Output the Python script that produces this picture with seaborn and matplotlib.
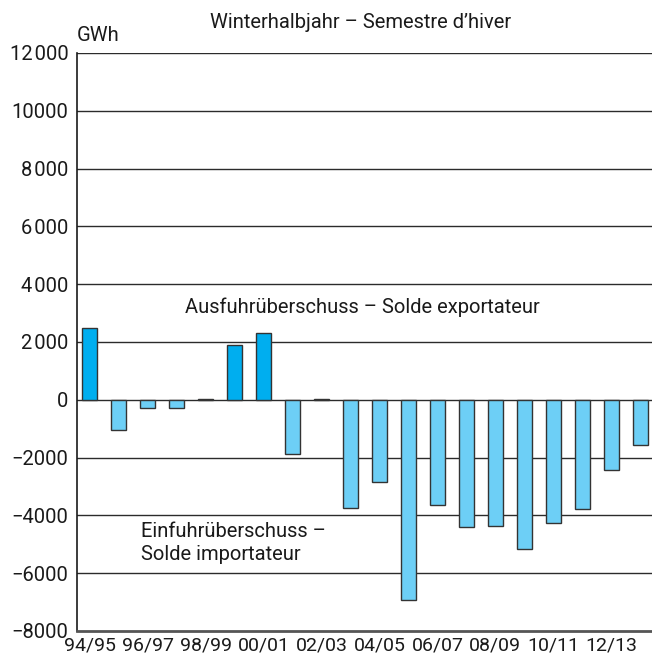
import numpy as np
import pandas as pd
import seaborn as sns
import matplotlib.pyplot as plt

# Winter half-year export/import balance, GWh
seasons = ['94/95', '95/96', '96/97', '97/98', '98/99', '99/00', '00/01', '01/02',
           '02/03', '03/04', '04/05', '05/06', '06/07', '07/08', '08/09', '09/10',
           '10/11', '11/12', '12/13', '13/14']
balance = [2490, -1040, -290, -290, 40, 1880, 2300, -1870,
           30, -3750, -2860, -6940, -3630, -4400, -4360, -5150,
           -4270, -3790, -2440, -1560]

y_ticks = [-8000, -6000, -4000, -2000, 0, 2000, 4000, 6000, 8000, 10000, 12000]
y_tick_labels = ['\u22128000', '\u22126000', '\u22124000', '\u22122000', '0',
                 '2\u200a000', '4\u200a000', '6\u200a000', '8\u200a000', '10000', '12\u200a000']
x_tick_labels = [s if i % 2 == 0 else '' for i, s in enumerate(seasons)]

sns.set_style("white")
plt.rcParams['font.family'] = ['Roboto', 'DejaVu Sans']
plt.rcParams['font.size'] = 14

df = pd.DataFrame({'season': seasons, 'value': balance})
df['sign'] = np.where(df['value'] >= 0, 'export', 'import')

fig = plt.figure(figsize=(6.52, 6.64), dpi=100)
ax = fig.add_axes([0.118, 0.0497, 0.882, 0.8706])

# grid lines behind bars
for yv in y_ticks[1:]:
    ax.axhline(yv, color='#2b2b2b', lw=1.0, zorder=0)

sns.barplot(data=df, x='season', y='value', hue='sign', dodge=False,
            palette={'export': '#00aeef', 'import': '#6dcff6'}, saturation=1,
            width=0.52, edgecolor='#333333', linewidth=1.0, legend=False,
            ax=ax, zorder=2)

ax.set_ylim(-8000, 12000)
ax.set_xlim(-0.45, 19.41)
ax.set_yticks(y_ticks)
ax.set_yticklabels(y_tick_labels, fontsize=14.5, color='#1a1a1a')
ax.set_xticks(range(len(seasons)))
ax.set_xticklabels(x_tick_labels, fontsize=14, color='#1a1a1a')
ax.tick_params(axis='both', length=0)
ax.tick_params(axis='x', pad=4)
ax.tick_params(axis='y', pad=6)
ax.set_xlabel('')
ax.set_ylabel('')

for side in ['top', 'right']:
    ax.spines[side].set_visible(False)
ax.spines['left'].set_color('#1a1a1a')
ax.spines['left'].set_linewidth(1.2)
ax.spines['bottom'].set_color('#555555')
ax.spines['bottom'].set_linewidth(2.0)

fig.text(0.553, 0.966, 'Winterhalbjahr \u2013 Semestre d\u2019hiver', ha='center', va='center',
         fontsize=14.5, color='#1a1a1a')
fig.text(0.118, 0.946, 'GWh', ha='left', va='center', fontsize=14.5, color='#1a1a1a')
ax.text(9.4, 3200, 'Ausfuhr\u00fcberschuss \u2013 Solde exportateur', ha='center', va='center',
        fontsize=14.5, color='#1a1a1a')
ax.text(1.75, -4950, 'Einfuhr\u00fcberschuss \u2013\nSolde importateur', ha='left', va='center',
        fontsize=14.5, color='#1a1a1a', linespacing=1.25)

plt.savefig('out.png', dpi=100)
plt.close()
